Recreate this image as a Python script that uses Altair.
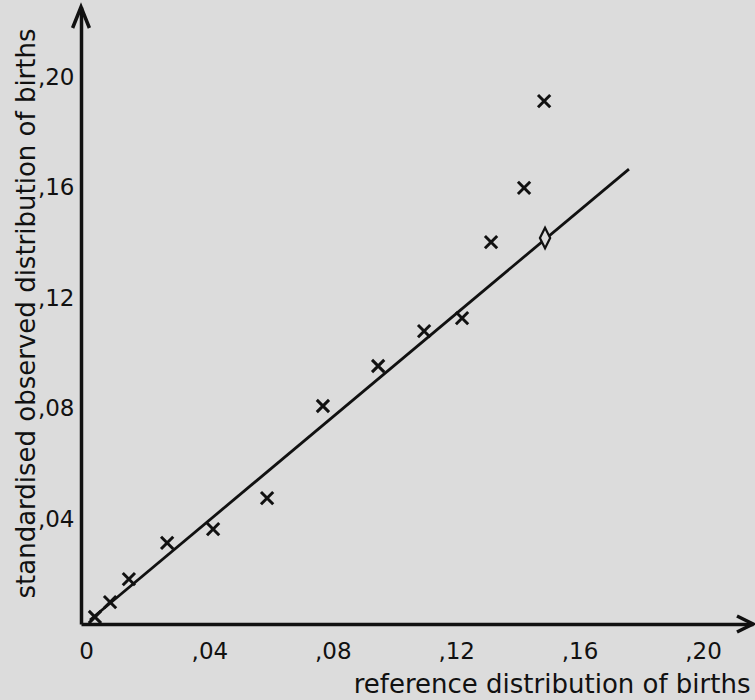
import altair as alt
import pandas as pd

# ---- data ----
ref_dist = [0.0029, 0.0078, 0.0139, 0.0263, 0.0412, 0.0587, 0.0768,
            0.0947, 0.1096, 0.1219, 0.1313, 0.1420, 0.1485]
obs_dist = [0.0047, 0.0101, 0.0184, 0.0315, 0.0365, 0.0477, 0.0810,
            0.0955, 0.1081, 0.1128, 0.1403, 0.1599, 0.1913]
diamond_ref = [0.1488]
diamond_obs = [0.1418]
line_ref = [0.0013, 0.1760]
line_obs = [0.0036, 0.1667]
x_ticks = [0, 0.04, 0.08, 0.12, 0.16, 0.20]
y_ticks = [0.04, 0.08, 0.12, 0.16, 0.20]
x_title = "reference distribution of births"
y_title = "standardised observed distribution of births"

BG = "#dcdcdc"
INK = "#111111"
FONT = "DejaVu Sans"
W, H = 672, 617

pts = pd.DataFrame({"ref": ref_dist, "obs": obs_dist})
dia = pd.DataFrame({"ref": diamond_ref, "obs": diamond_obs})
ln = pd.DataFrame({"ref": line_ref, "obs": line_obs})
one = pd.DataFrame({"k": [0]})

label_expr = "datum.value == 0 ? '0' : replace(format(datum.value, '.2f'), '0.', ',')"

xs = alt.Scale(domain=[-0.00162, 0.21621], nice=False, zero=False)
ys = alt.Scale(domain=[0.00217, 0.22532], nice=False, zero=False)

x_axis = alt.Axis(values=x_ticks, labelExpr=label_expr, title=x_title,
                  grid=False, ticks=False, tickSize=0, labelPadding=27,
                  labelBaseline="middle", labelFontSize=23, labelColor=INK,
                  titleFontSize=26, titleFontWeight="normal", titleColor=INK,
                  titleX=669, titleY=68, titleAlign="right",
                  titleBaseline="alphabetic",
                  domainColor=INK, domainWidth=3.5)
y_axis = alt.Axis(values=y_ticks, labelExpr=label_expr, title=y_title,
                  grid=False, ticks=False, tickSize=0, labelPadding=7,
                  labelFontSize=23, labelColor=INK,
                  titleFontSize=26, titleFontWeight="normal", titleColor=INK,
                  titleX=-47, titleY=306, titleAlign="center",
                  titleBaseline="alphabetic", titleAngle=270,
                  domainColor=INK, domainWidth=3.5)

line = alt.Chart(ln).mark_line(color=INK, strokeWidth=2.8).encode(
    x=alt.X("ref:Q", scale=xs, axis=x_axis),
    y=alt.Y("obs:Q", scale=ys, axis=y_axis),
)

crosses = alt.Chart(pts).mark_point(
    shape="M-1,-1L1,1M1,-1L-1,1", size=150, filled=False,
    stroke=INK, strokeWidth=3, opacity=1
).encode(
    x=alt.X("ref:Q", scale=xs),
    y=alt.Y("obs:Q", scale=ys),
)

diamond = alt.Chart(dia).mark_point(
    shape="M0,-1L0.5,0L0,1L-0.5,0Z", size=420, filled=True,
    fill=BG, stroke=INK, strokeWidth=2.2, opacity=1, fillOpacity=1
).encode(
    x=alt.X("ref:Q", scale=xs),
    y=alt.Y("obs:Q", scale=ys),
)

arrow_up = alt.Chart(one).mark_point(
    shape="M-0.4,1L0,0L0.4,1", size=1764, filled=False,
    stroke=INK, strokeWidth=3.5, opacity=1
).encode(x=alt.value(0), y=alt.value(0))

arrow_right = alt.Chart(one).mark_point(
    shape="M-1,-0.5L0,0L-1,0.5", size=1024, filled=False,
    stroke=INK, strokeWidth=3.5, opacity=1
).encode(x=alt.value(W), y=alt.value(H))

chart = alt.layer(line, crosses, diamond, arrow_up, arrow_right).properties(
    width=W, height=H,
    padding={"left": 81, "top": 7, "right": 2, "bottom": 76},
    autosize=alt.AutoSizeParams(type="none"),
    background=BG,
).configure(font=FONT).configure_view(stroke=None)

chart.save("out.html", embed_options={"renderer": "svg", "actions": False})
